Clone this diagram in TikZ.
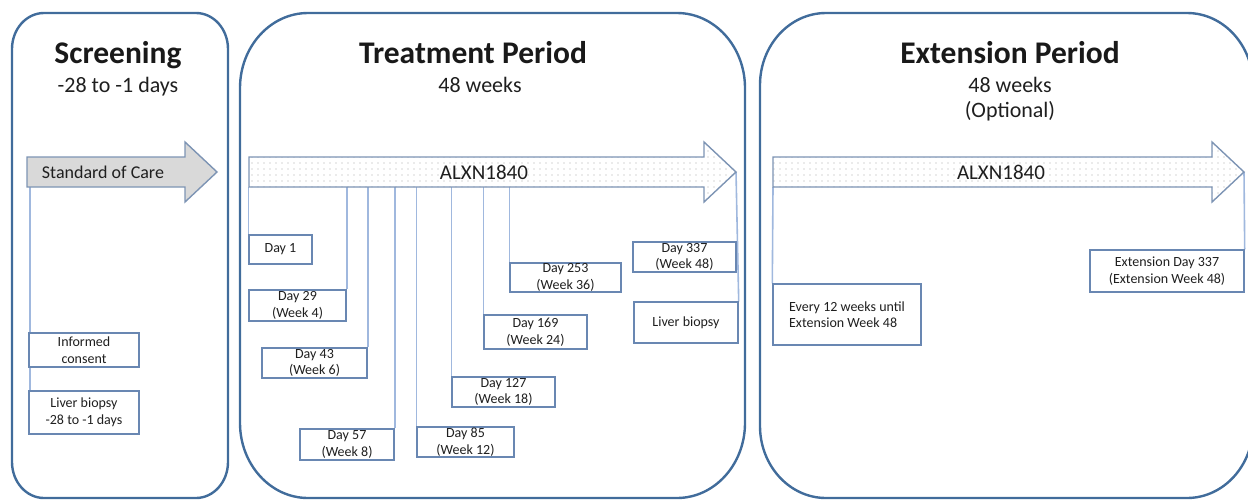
\documentclass[tikz,border=0pt]{standalone}
\usepackage{fontspec}
\setmainfont{Carlito}
\usetikzlibrary{patterns.meta,backgrounds}

\definecolor{panelblue}{RGB}{65,108,155}
\definecolor{boxblue}{RGB}{105,135,178}
\definecolor{linkblue}{RGB}{160,184,222}
\definecolor{arrowgray}{RGB}{125,148,180}
\definecolor{socfill}{RGB}{217,217,217}
\definecolor{dotgray}{RGB}{170,170,170}

% panel with elliptic corners: left, top, right, bottom, x radius, y radius
\newcommand{\panelbox}[6]{%
  \draw[panel] ({#1},{#2+#6}) .. controls ({#1},{#2+0.448*#6}) and ({#1+0.448*#5},{#2}) .. ({#1+#5},{#2})
    -- ({#3-#5},{#2}) .. controls ({#3-0.448*#5},{#2}) and ({#3},{#2+0.448*#6}) .. ({#3},{#2+#6})
    -- ({#3},{#4-#6}) .. controls ({#3},{#4-0.448*#6}) and ({#3-0.448*#5},{#4}) .. ({#3-#5},{#4})
    -- ({#1+#5},{#4}) .. controls ({#1+0.448*#5},{#4}) and ({#1},{#4-0.448*#6}) .. ({#1},{#4-#6}) -- cycle;}
% block arrow: style, tail x, tip x
\newcommand{\bigarrow}[3]{%
  \draw[#1] ({#2},157) -- ({#3-32},157) -- ({#3-32},142) -- ({#3},172)
    -- ({#3-32},202) -- ({#3-32},187) -- ({#2},187) -- cycle;}

\begin{document}
\begin{tikzpicture}[x=1pt,y=-1pt,
    panel/.style={draw=panelblue,line width=2.4pt},
    title/.style={anchor=base,text=black!90,font=\fontsize{31.5}{36}\selectfont\bfseries},
    subtitle/.style={anchor=base,text=black!88,font=\fontsize{22}{26}\selectfont},
    arrowline/.style={draw=arrowgray,line width=1.4pt,line join=miter},
    evbox/.style={draw=boxblue,line width=1.4pt,fill=white,align=center,inner sep=0pt,
      text=black!88,font=\fontsize{14}{16.5}\selectfont},
    link/.style={draw=linkblue,line width=1.6pt}]
    \useasboundingbox (0,0) rectangle (1248,499);
    \clip (0,0) rectangle (1248,499);

    % the three periods
    \panelbox{12}{13}{228}{498}{32}{36}
    \panelbox{240}{13}{745}{498}{68}{75}
    \panelbox{760}{13}{1253}{498}{66}{72}

    \node[title] (scrtitle) at (118,63) {Screening};
    \node[subtitle] (scrdays) at (118,92) {-28 to -1 days};
    \node[title] (trttitle) at (473,63) {Treatment Period};
    \node[subtitle] (trtweeks) at (480,92) {48 weeks};
    \node[title] (exttitle) at (1010,63) {Extension Period};
    \node[subtitle] (extweeks) at (1010,92) {48 weeks};
    \node[subtitle] (extopt) at (1010,117) {(Optional)};

    % arrows
    \bigarrow{arrowline,fill=socfill}{27}{217}
    \bigarrow{arrowline,pattern={Dots[distance=6pt,radius=0.6pt]},pattern color=dotgray}{249}{736}
    \bigarrow{arrowline,pattern={Dots[distance=6pt,radius=0.6pt]},pattern color=dotgray}{773}{1244}
    \node[text=black!88,font=\fontsize{18}{20}\selectfont] (soc) at (103,172) {Standard of Care};
    \node[text=black!88,font=\fontsize{21}{24}\selectfont] (trtdrug) at (484,172) {ALXN1840};
    \node[text=black!88,font=\fontsize{21}{24}\selectfont] (extdrug) at (1001,172) {ALXN1840};
    \coordinate (socbase) at (30,187);
    \coordinate (trtbase) at (250,187);
    \coordinate (trttip) at (736,172);
    \coordinate (extbase) at (773,187);
    \coordinate (exttip) at (1244,172);

    % screening visits
    \node[evbox,minimum width=110pt,minimum height=34pt] (ic) at (84,350) {Informed\\consent};
    \node[evbox,minimum width=110pt,minimum height=43pt] (lbscr) at (84,412.5) {Liver biopsy\\-28 to -1 days};

    % treatment visits
    \node[evbox,minimum width=63pt,minimum height=29pt] (d1) at (280.5,249.5) {Day 1};
    \node[evbox,minimum width=97pt,minimum height=31pt] (d29) at (297.5,305.5) {Day 29\\(Week 4)};
    \node[evbox,minimum width=105pt,minimum height=30pt] (d43) at (314.5,363) {Day 43\\(Week 6)};
    \node[evbox,minimum width=94pt,minimum height=31pt] (d57) at (347,444.5) {Day 57\\(Week 8)};
    \node[evbox,minimum width=97pt,minimum height=30pt] (d85) at (465.5,442) {Day 85\\(Week 12)};
    \node[evbox,minimum width=103pt,minimum height=30pt] (d127) at (503.5,392) {Day 127\\(Week 18)};
    \node[evbox,minimum width=103pt,minimum height=34pt] (d169) at (535.5,332) {Day 169\\(Week 24)};
    \node[evbox,minimum width=111pt,minimum height=29pt] (d253) at (565.5,277.5) {Day 253\\(Week 36)};
    \node[evbox,minimum width=103pt,minimum height=30pt] (d337) at (684.5,257) {Day 337\\(Week 48)};
    \node[evbox,minimum width=104pt,minimum height=41pt] (lbtrt) at (686,322.5) {Liver biopsy};

    % extension visits
    \node[evbox,align=left,minimum width=148pt,minimum height=61pt] (ev12) at (847,314.5) {Every 12 weeks until\\Extension Week 48};
    \node[evbox,minimum width=154pt,minimum height=42pt] (e337) at (1167,271) {Extension Day 337\\(Extension Week 48)};

    \begin{scope}[on background layer]
        \draw[link] (socbase) -- (socbase |- lbscr.north);
        \foreach \b/\c in {d1/north west,d29/north east,d43/north east,d57/north east,
            d85/north west,d127/north west,d169/north west,d253/north west}
            \draw[link] (\b.\c |- trtbase) -- (\b.\c);
        \draw[link] (trttip) -- (lbtrt.north east);
        \draw[link] (extbase) -- (ev12.north west);
        \draw[link] (exttip) -- (e337.north east);
    \end{scope}
\end{tikzpicture}
\end{document}
